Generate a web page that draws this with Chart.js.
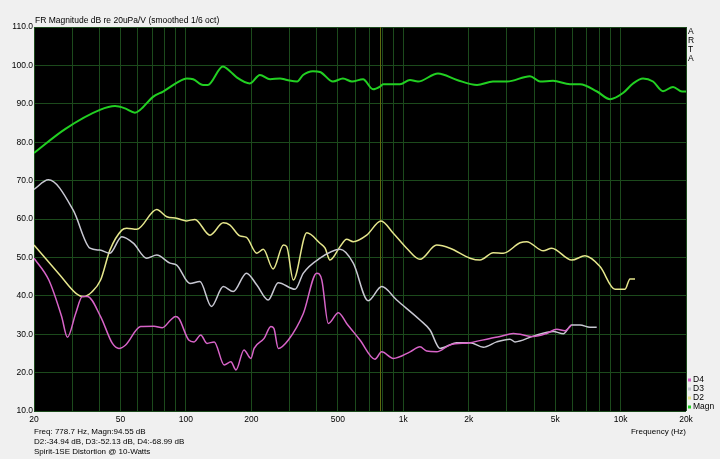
<!DOCTYPE html>
<html>
<head>
<meta charset="utf-8">
<script src="https://cdn.jsdelivr.net/npm/chart.js@4/dist/chart.umd.min.js"></script>
<style>
  html, body { margin: 0; padding: 0; background: #f0f0f0; }
  #wrap { width: 720px; height: 459px; }
</style>
</head>
<body>
<div id="wrap"><canvas id="fr" width="720" height="459"></canvas></div>
<script>
// values (Hz / dB)
const MAGN_F = [20, 27.8, 40.2, 47.2, 52.5, 58.3, 61.5, 70.6, 78.5, 91, 101, 108, 120, 126, 148, 160, 172, 197, 219, 244, 271, 292, 325, 346, 384, 414, 475, 528, 581, 653, 726, 782, 807, 966, 1074, 1169, 1445, 1768, 2185, 2588, 3002, 3830, 4258, 4888, 5854, 6507, 7790, 8943, 10258, 11410, 12686, 14104, 15682, 17435, 19174, 20000];
const MAGN_DB = [77.2, 83.4, 88.4, 89.4, 88.8, 87.7, 88.4, 91.8, 93.2, 95.5, 96.6, 96.4, 94.9, 94.9, 99.7, 98.4, 96.8, 95.3, 97.5, 96.4, 96.6, 96.2, 95.8, 97.5, 98.5, 98.3, 95.8, 96.6, 95.8, 96.4, 93.8, 94.5, 95.1, 95.1, 96.2, 95.8, 97.9, 96.2, 94.9, 95.8, 95.8, 97.2, 95.8, 96.0, 95.1, 95.1, 93.2, 91.2, 92.8, 95.3, 96.6, 95.8, 93.3, 94.4, 93.2, 93.2];

const D2_F = [20, 26.3, 31.1, 33.7, 36.9, 40.5, 44.7, 50.7, 53.4, 59.4, 73.4, 81.6, 90.7, 100.8, 110, 129, 148.6, 159.6, 177, 190, 212, 227, 252, 281, 291, 312, 360, 414, 437, 460, 512, 549, 589, 679, 790, 900, 1037, 1194, 1425, 1641, 2029, 2255, 2596, 2886, 3446, 3698, 4410, 4822, 5958, 6860, 8042, 9428, 10482, 11052, 11654];
const D2_DB = [53.2, 45.4, 40.7, 39.8, 41.0, 44.1, 51.9, 57.1, 57.6, 57.3, 62.5, 60.6, 60.2, 59.5, 59.9, 55.8, 59.0, 58.4, 55.6, 55.2, 51.1, 52.1, 47.0, 53.2, 52.8, 44.1, 56.4, 53.7, 52.4, 49.3, 52.8, 54.7, 54.1, 55.8, 59.5, 56.3, 52.4, 49.5, 53.2, 52.4, 49.8, 49.3, 51.2, 51.1, 53.8, 54.1, 51.7, 52.4, 49.3, 50.4, 47.6, 41.7, 41.7, 44.4, 44.4];

const D3_F = [20, 23.3, 30.3, 36.2, 40.2, 44.7, 50.7, 57.3, 66.0, 73.4, 84.5, 90.7, 104.4, 116, 131, 148.6, 165, 190, 212, 239, 266, 318, 347, 414, 512, 589, 690, 796, 933, 1194, 1328, 1476, 1762, 2029, 2336, 2692, 3098, 3268, 3966, 4904, 5452, 5958, 6507, 7232, 7764];
const D3_DB = [67.7, 70.2, 62.3, 52.4, 51.9, 51.1, 55.4, 53.7, 49.8, 50.6, 48.5, 48.0, 43.2, 43.7, 37.2, 42.4, 41.1, 45.9, 42.8, 38.9, 43.4, 41.7, 45.9, 49.8, 52.1, 48.5, 38.7, 42.4, 38.9, 33.7, 31.1, 26.3, 27.8, 27.8, 26.6, 28.0, 28.7, 28.0, 29.5, 30.7, 30.1, 32.4, 32.4, 31.8, 31.8];

const D4_F = [20, 23.4, 26.8, 28.5, 31.1, 33.4, 35.2, 40.5, 45.9, 49.2, 52.8, 61.9, 71.3, 77.9, 85.1, 89.7, 92.9, 103, 109, 117, 125, 135, 150, 161, 170, 185, 199, 206, 229, 246, 254, 266, 296, 347, 400, 422, 452, 503, 549, 632, 741, 796, 900, 1075, 1194, 1282, 1425, 1641, 2029, 2508, 2788, 3212, 3966, 4572, 5084, 5550, 5958];
const D4_DB = [49.8, 44.1, 34.6, 29.2, 35.4, 39.8, 39.8, 34.6, 27.6, 26.3, 27.2, 32.0, 32.1, 31.7, 33.7, 34.6, 34.1, 28.5, 28.0, 29.8, 27.6, 28.0, 22.0, 22.8, 20.7, 25.9, 23.7, 26.3, 28.9, 32.0, 31.5, 26.3, 28.5, 35.4, 45.9, 44.1, 32.8, 35.6, 32.8, 28.5, 23.5, 25.4, 23.7, 25.4, 26.7, 25.6, 25.4, 27.2, 27.8, 28.9, 29.4, 30.2, 29.4, 30.2, 31.3, 30.9, 32.4];

const GRID_F = [20, 30, 40, 50, 60, 70, 80, 90, 100, 200, 300, 400, 500, 600, 700, 800, 900,
  1000, 2000, 3000, 4000, 5000, 6000, 7000, 8000, 9000, 10000, 20000];
const X_LABELS = { 20: '20', 50: '50', 100: '100', 200: '200', 500: '500', 1000: '1k', 2000: '2k', 5000: '5k', 10000: '10k', 20000: '20k' };
const CURSOR_F = 778.7;

const LEGEND = [
  { name: 'D4', color: '#d864c8' },
  { name: 'D3', color: '#c8c8d2' },
  { name: 'D2', color: '#e6e68c' },
  { name: 'Magn', color: '#22d022' },
];

const FONT = '"Liberation Sans", Arial, sans-serif';
const GRID_COLOR = '#1c4a1c';
Chart.defaults.font.family = FONT;
Chart.defaults.font.size = 8.5;
Chart.defaults.color = '#000';

function series(f, db) {
  return f.map((v, i) => ({ x: v, y: db[i] }));
}

// background, black plot area, cursor line, and the ARTA texts
const artaDecor = {
  id: 'artaDecor',
  beforeDraw(chart) {
    const { ctx, chartArea: a } = chart;
    ctx.save();
    ctx.fillStyle = '#f0f0f0';
    ctx.fillRect(0, 0, chart.width, chart.height);
    ctx.fillStyle = '#000';
    ctx.fillRect(a.left, a.top, a.right - a.left, a.bottom - a.top);
    ctx.restore();
  },
  beforeDatasetsDraw(chart) {
    const { ctx, chartArea: a } = chart;
    const x = Math.round(chart.scales.x.getPixelForValue(CURSOR_F)) + 0.5;
    ctx.save();
    ctx.strokeStyle = '#5e6a10';
    ctx.lineWidth = 1;
    ctx.beginPath();
    ctx.moveTo(x, a.top);
    ctx.lineTo(x, a.bottom);
    ctx.stroke();
    ctx.restore();
  },
  afterDraw(chart) {
    const { ctx } = chart;
    ctx.save();
    ctx.fillStyle = '#000';
    ctx.textBaseline = 'middle';
    ctx.textAlign = 'left';
    ctx.font = '8.5px ' + FONT;
    ctx.fillText('FR Magnitude dB re 20uPa/V (smoothed 1/6 oct)', 35, 21);
    ctx.font = '8px ' + FONT;
    ctx.fillText('Freq: 778.7 Hz, Magn:94.55 dB', 34, 432);
    ctx.fillText('D2:-34.94 dB, D3:-52.13 dB, D4:-68.99 dB', 34, 442);
    ctx.fillText('Spirit-1SE Distortion @ 10-Watts', 34, 452);
    ctx.textAlign = 'right';
    ctx.fillText('Frequency (Hz)', 686, 432);
    ctx.textAlign = 'left';
    ctx.font = '8.5px ' + FONT;
    'ARTA'.split('').forEach((c, i) => ctx.fillText(c, 688, 32 + i * 9));
    LEGEND.forEach((l, i) => {
      const y = 380 + i * 9;
      ctx.fillStyle = l.color;
      ctx.fillRect(688, y - 1.5, 3, 3);
      ctx.fillStyle = '#000';
      ctx.fillText(l.name, 693, y);
    });
    ctx.restore();
  },
};

const lineStyle = { pointRadius: 0, fill: false, cubicInterpolationMode: 'monotone' };

new Chart(document.getElementById('fr'), {
  type: 'line',
  data: {
    datasets: [
      { label: 'D4', data: series(D4_F, D4_DB), borderColor: LEGEND[0].color, borderWidth: 1.5, ...lineStyle },
      { label: 'D3', data: series(D3_F, D3_DB), borderColor: LEGEND[1].color, borderWidth: 1.5, ...lineStyle },
      { label: 'D2', data: series(D2_F, D2_DB), borderColor: LEGEND[2].color, borderWidth: 1.5, ...lineStyle },
      { label: 'Magn', data: series(MAGN_F, MAGN_DB), borderColor: LEGEND[3].color, borderWidth: 2, ...lineStyle },
    ],
  },
  options: {
    responsive: false,
    animation: false,
    parsing: false,
    layout: { padding: { top: 27, right: 34, left: 0, bottom: 0 } },
    plugins: {
      legend: { display: false },
      tooltip: { enabled: false },
    },
    scales: {
      x: {
        type: 'logarithmic',
        min: 20,
        max: 20000,
        afterBuildTicks: (scale) => { scale.ticks = GRID_F.map((v) => ({ value: v })); },
        afterFit: (scale) => { scale.height = 48; },
        ticks: {
          autoSkip: false,
          maxRotation: 0,
          padding: 4,
          callback: (v) => X_LABELS[v] || '',
        },
        grid: { color: GRID_COLOR, lineWidth: 1, drawTicks: false },
        border: { display: false },
      },
      y: {
        min: 10,
        max: 110,
        afterFit: (scale) => { scale.width = 34; },
        ticks: {
          stepSize: 10,
          padding: 1,
          callback: (v) => v.toFixed(1),
        },
        grid: { color: GRID_COLOR, lineWidth: 1, drawTicks: false },
        border: { display: false },
      },
    },
  },
  plugins: [artaDecor],
});
</script>
</body>
</html>
